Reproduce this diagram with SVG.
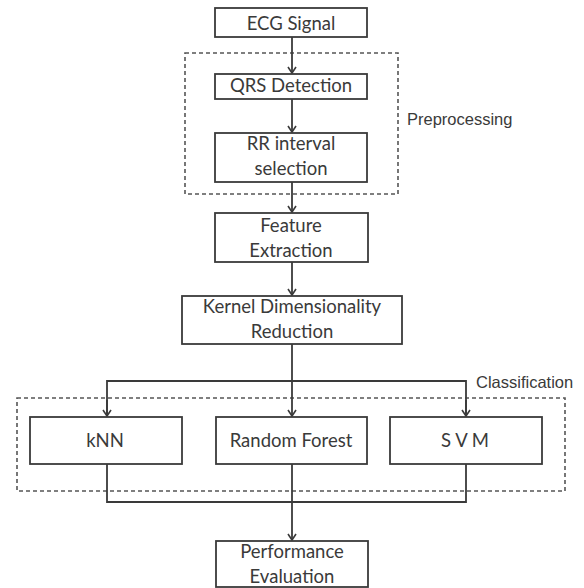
<svg xmlns="http://www.w3.org/2000/svg" width="584" height="588" viewBox="0 0 584 588">
  <style>
    .box { fill: #ffffff; stroke: #3a3a3a; stroke-width: 1.8; }
    .group { fill: none; stroke: #555555; stroke-width: 1.6; stroke-dasharray: 4 3; }
    .wire { fill: none; stroke: #3a3a3a; stroke-width: 1.8; }
    .label { font-family: Lato, "Liberation Sans", sans-serif; font-size: 18.5px; fill: #3a3a3a; text-anchor: middle; }
    .note { font-family: "Liberation Sans", Arial, sans-serif; font-size: 16.5px; fill: #3a3a3a; }
  </style>
  <defs>
    <marker id="arrow" markerWidth="10" markerHeight="10" refX="8" refY="5" orient="auto" markerUnits="userSpaceOnUse">
      <path d="M2,1 L8,5 L2,9" fill="none" stroke="#3a3a3a" stroke-width="1.6"/>
    </marker>
  </defs>

  <rect width="584" height="588" fill="#ffffff"/>

  <!-- grouping frames -->
  <g id="preprocessing-group">
    <rect class="group" x="185" y="53" width="213" height="141"/>
    <text class="note" x="407" y="125">Preprocessing</text>
  </g>
  <g id="classification-group">
    <rect class="group" x="17" y="398" width="548" height="93"/>
    <text class="note" x="476" y="388">Classification</text>
  </g>

  <!-- connectors -->
  <g id="connectors">
    <line class="wire" x1="292" y1="37" x2="292" y2="73" marker-end="url(#arrow)"/>
    <line class="wire" x1="292" y1="99" x2="292" y2="132" marker-end="url(#arrow)"/>
    <line class="wire" x1="292" y1="182" x2="292" y2="212" marker-end="url(#arrow)"/>
    <line class="wire" x1="292" y1="262" x2="292" y2="295" marker-end="url(#arrow)"/>
    <line class="wire" x1="292" y1="344" x2="292" y2="416" marker-end="url(#arrow)"/>
    <polyline class="wire" points="107,416 107,381 466,381 466,416"/>
    <line class="wire" x1="107" y1="400" x2="107" y2="416" marker-end="url(#arrow)"/>
    <line class="wire" x1="466" y1="400" x2="466" y2="416" marker-end="url(#arrow)"/>
    <polyline class="wire" points="107,464 107,502 466,502 466,464"/>
    <line class="wire" x1="292" y1="464" x2="292" y2="540" marker-end="url(#arrow)"/>
  </g>

  <!-- nodes -->
  <g id="ecg-signal">
    <rect class="box" x="215" y="8" width="152" height="29"/>
    <text class="label" x="291" y="30">ECG Signal</text>
  </g>
  <g id="qrs-detection">
    <rect class="box" x="215" y="74" width="152" height="25"/>
    <text class="label" x="291" y="92">QRS Detection</text>
  </g>
  <g id="rr-interval">
    <rect class="box" x="215" y="133" width="152" height="49"/>
    <text class="label" x="291" y="150">RR interval</text>
    <text class="label" x="291" y="175">selection</text>
  </g>
  <g id="feature-extraction">
    <rect class="box" x="215" y="213" width="153" height="49"/>
    <text class="label" x="291" y="232">Feature</text>
    <text class="label" x="291" y="257">Extraction</text>
  </g>
  <g id="kernel-reduction">
    <rect class="box" x="182" y="296" width="220" height="48"/>
    <text class="label" x="292" y="313">Kernel Dimensionality</text>
    <text class="label" x="292" y="338">Reduction</text>
  </g>
  <g id="knn">
    <rect class="box" x="30" y="417" width="152" height="47"/>
    <text class="label" x="105" y="447">kNN</text>
  </g>
  <g id="random-forest">
    <rect class="box" x="216" y="417" width="151" height="47"/>
    <text class="label" x="291" y="447">Random Forest</text>
  </g>
  <g id="svm">
    <rect class="box" x="390" y="417" width="152" height="47"/>
    <text class="label" x="465" y="447">S V M</text>
  </g>
  <g id="performance-evaluation">
    <rect class="box" x="216" y="541" width="152" height="46"/>
    <text class="label" x="292" y="558">Performance</text>
    <text class="label" x="292" y="583">Evaluation</text>
  </g>
</svg>
